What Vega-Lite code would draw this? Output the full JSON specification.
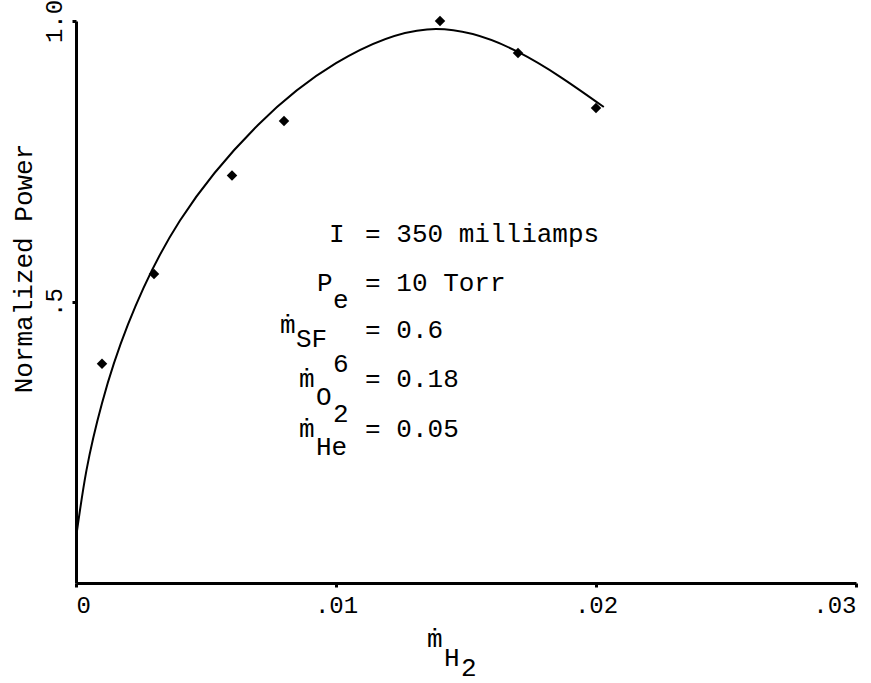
{
  "$schema": "https://vega.github.io/schema/vega-lite/v6.json",
  "width": 780,
  "height": 562,
  "autosize": {"type": "none"},
  "padding": {"left": 76, "top": 21, "right": 15, "bottom": 100},
  "background": "white",
  "config": {
    "view": {"stroke": null},
    "font": "Liberation Mono",
    "axis": {
      "grid": false,
      "domainColor": "black",
      "domainWidth": 3,
      "tickColor": "black",
      "tickWidth": 3,
      "tickSize": 4,
      "labelColor": "black",
      "labelFont": "Liberation Mono",
      "labelFontSize": 24,
      "titleFont": "Liberation Mono",
      "titleColor": "black",
      "titleFontWeight": "normal"
    }
  },
  "datasets": {
    "fit": [
      {"h2": 0.0, "power": 0.08},
      {"h2": 0.0004, "power": 0.2},
      {"h2": 0.001, "power": 0.32},
      {"h2": 0.002, "power": 0.46},
      {"h2": 0.004, "power": 0.645},
      {"h2": 0.007, "power": 0.815},
      {"h2": 0.01, "power": 0.925},
      {"h2": 0.0135, "power": 0.985},
      {"h2": 0.017, "power": 0.945},
      {"h2": 0.0203, "power": 0.847}
    ],
    "measured": [
      {"h2": 0.001, "power": 0.39},
      {"h2": 0.003, "power": 0.55},
      {"h2": 0.006, "power": 0.725},
      {"h2": 0.008, "power": 0.822},
      {"h2": 0.014, "power": 1.0},
      {"h2": 0.017, "power": 0.943},
      {"h2": 0.02, "power": 0.845}
    ],
    "notes": [
      {"h2": 0.00973, "power": 0.6068, "text": "I"},
      {"h2": 0.01112, "power": 0.6068, "text": "= 350 milliamps"},
      {"h2": 0.00927, "power": 0.5196, "text": "P"},
      {"h2": 0.00988, "power": 0.4893, "text": "e"},
      {"h2": 0.01112, "power": 0.5196, "text": "= 10 Torr"},
      {"h2": 0.00785, "power": 0.4448, "text": "ṁ"},
      {"h2": 0.00846, "power": 0.4199, "text": "SF"},
      {"h2": 0.00988, "power": 0.3754, "text": "6"},
      {"h2": 0.01112, "power": 0.4359, "text": "= 0.6"},
      {"h2": 0.00858, "power": 0.3488, "text": "ṁ"},
      {"h2": 0.00923, "power": 0.3167, "text": "O"},
      {"h2": 0.00988, "power": 0.2865, "text": "2"},
      {"h2": 0.01112, "power": 0.3488, "text": "= 0.18"},
      {"h2": 0.00858, "power": 0.2598, "text": "ṁ"},
      {"h2": 0.00923, "power": 0.2278, "text": "He"},
      {"h2": 0.01112, "power": 0.2598, "text": "= 0.05"},
      {"h2": 0.0135, "power": -0.1139, "text": "ṁ"},
      {"h2": 0.01415, "power": -0.1477, "text": "H"},
      {"h2": 0.01481, "power": -0.1655, "text": "2"}
    ]
  },
  "layer": [
    {
      "data": {"name": "fit"},
      "mark": {"type": "line", "interpolate": "natural", "color": "black", "strokeWidth": 2},
      "encoding": {
        "x": {
          "field": "h2",
          "type": "quantitative",
          "scale": {"domain": [0, 0.03], "nice": false},
          "axis": {
            "values": [0, 0.01, 0.02, 0.03],
            "labelExpr": "datum.value == 0 ? '0' : '.' + format(datum.value * 100, '02d')",
            "labelPadding": 6,
            "title": null
          }
        },
        "y": {
          "field": "power",
          "type": "quantitative",
          "scale": {"domain": [0, 1], "nice": false},
          "axis": {
            "values": [0.5, 1],
            "labelExpr": "datum.value == 1 ? '1.0' : '.5'",
            "labelAngle": 270,
            "labelAlign": "center",
            "labelBaseline": "bottom",
            "labelPadding": 6,
            "title": "Normalized Power",
            "titleFontSize": 26,
            "titleAngle": 270,
            "titleAlign": "center",
            "titleBaseline": "middle",
            "titleX": -53,
            "titleY": 247
          }
        }
      }
    },
    {
      "data": {"name": "measured"},
      "mark": {"type": "point", "shape": "diamond", "filled": true, "color": "black", "size": 110, "opacity": 1},
      "encoding": {
        "x": {"field": "h2", "type": "quantitative"},
        "y": {"field": "power", "type": "quantitative"}
      }
    },
    {
      "data": {"name": "notes"},
      "mark": {"type": "text", "align": "left", "baseline": "alphabetic", "fontSize": 26, "color": "black", "font": "Liberation Mono"},
      "encoding": {
        "x": {"field": "h2", "type": "quantitative"},
        "y": {"field": "power", "type": "quantitative"},
        "text": {"field": "text"}
      }
    }
  ]
}
